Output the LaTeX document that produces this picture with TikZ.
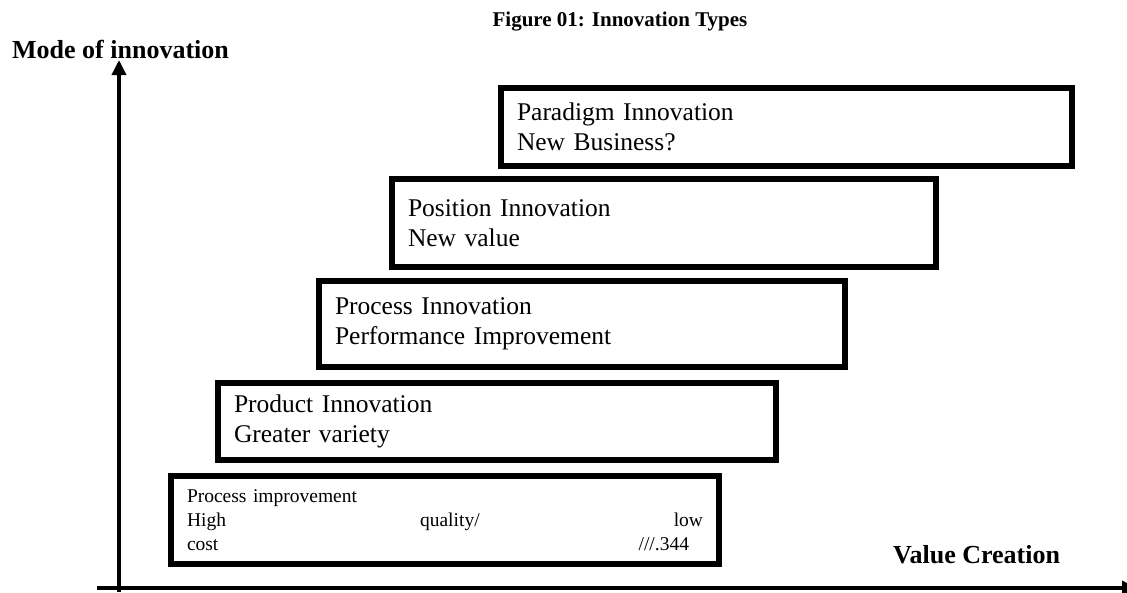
\documentclass[tikz,border=0pt]{standalone}
\usepackage{fontspec}
\setmainfont{Liberation Serif}
\usepackage{xcolor}
\usepackage{tikz}
\usetikzlibrary{arrows.meta,arrows}
\usetikzlibrary{positioning,shapes,calc}

\begin{document}
\begin{tikzpicture}[
            x = 1pt, y = -1pt, % pixel coordinates
            > = {Triangle[length=15pt,width=14pt]}, % arrow head style
            axis/.style = {->, line width=3.5pt},
            innobox/.style = {
                draw = black,
                line width = 5.5pt,
                rectangle,
                outer sep = 0pt,
                inner xsep = 16pt,
                inner ysep = 0pt,
                align = left,
                anchor = north west,
                font = \fontsize{25.5}{30}\selectfont
            }
        ]

        \useasboundingbox (0,0) rectangle (1127,592);

        % Titles
        \node[anchor=base, font=\fontsize{21}{24}\selectfont\bfseries] (title) at (620,26) {Figure 01: Innovation Types};
        \node[anchor=base west, inner sep=0pt, font=\fontsize{26}{30}\selectfont\bfseries] (ylabel) at (12,58) {Mode of innovation};
        \node[anchor=base west, inner sep=0pt, font=\fontsize{26}{30}\selectfont\bfseries] (xlabel) at (893,563) {Value Creation};

        % Blocks
        \node[innobox, text width=539pt, minimum height=78pt] (paradigm) [at={(501,88)}] {Paradigm Innovation\\New Business?};
        \node[innobox, text width=512pt, minimum height=88pt] (position) [at={(392,179)}] {Position Innovation\\New value};
        \node[innobox, text width=494pt, minimum height=86pt] (process) [at={(319,281)}] {Process Innovation\\Performance Improvement};
        \node[innobox, text width=526pt, minimum height=77pt] (product) [at={(218,383)}] {Product Innovation\\Greater variety};
        \node[innobox, text width=516pt, minimum height=88pt, font=\fontsize{19.5}{24}\selectfont] (improve) [at={(171,476)}]
            {Process improvement\\High\hfill quality/\hfill low\\cost\hfill ///.344\rule{14pt}{0pt}};

        % Axes
        \coordinate (origin) at (119,592);
        \coordinate (ytip) at (119,60);
        \coordinate (xstart) at (97,588);
        \coordinate (xtip) at (1137,588);

        \draw[axis] (origin) -- (ytip);
        \draw[axis] (xstart) -- (xtip);

\end{tikzpicture}
\end{document}
